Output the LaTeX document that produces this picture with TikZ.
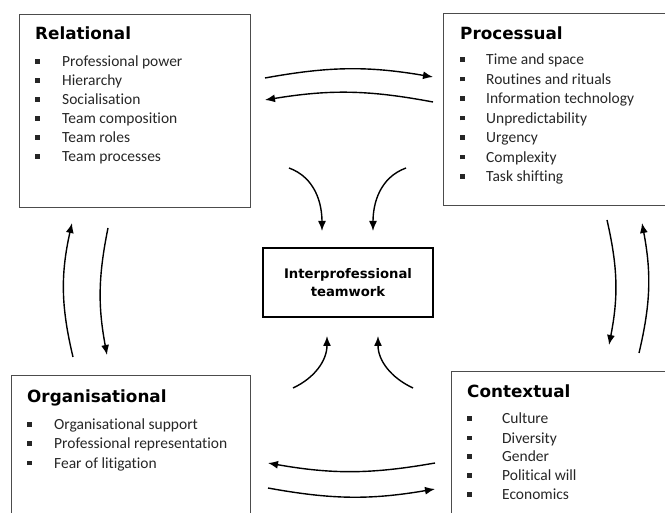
\documentclass[tikz,border=0pt]{standalone}
\usepackage{fontspec}
\setmainfont{Carlito}[Ligatures=NoCommon]
\newfontfamily\headfont{DejaVu Sans}
\usetikzlibrary{arrows.meta}
\newcommand{\bul}{\rule[3pt]{4.5pt}{4.5pt}}

\begin{document}
\begin{tikzpicture}[x=1pt, y=1pt,
  box/.style={draw=black!70, line width=1.3pt, anchor=north west, inner sep=0pt},
  head/.style={anchor=base west, inner sep=0pt, font=\headfont\bfseries\fontsize{16.8}{20}\selectfont},
  item/.style={anchor=base west, inner sep=0pt, text=black!85, font=\fontsize{15.5}{19}\selectfont},
  core/.style={draw, line width=2pt, minimum width=170pt, minimum height=69pt, align=center, font=\headfont\bfseries\fontsize{13.2}{18}\selectfont},
  link/.style={-{Latex[length=10pt,width=8pt]}, line width=1.4pt}]

  \useasboundingbox (0,0) rectangle (665,-513);

  % the four boxes and the centre
  \node[box, minimum width=231pt, minimum height=193pt] (rel) at (19,-14) {};
  \node[box, minimum width=230pt, minimum height=192pt] (proc) at (443,-13) {};
  \node[box, minimum width=239pt, minimum height=150pt] (org) at (11,-375) {};
  \node[box, minimum width=230pt, minimum height=150pt] (ctx) at (451,-371) {};
  \node[core] (team) at (348,-282.5) {Interprofessional\\teamwork};

  % headings
  \node[head] (relT) at ([shift={(16,-26)}]rel.north west) {Relational};
  \node[head] (procT) at ([shift={(17,-27)}]proc.north west) {Processual};
  \node[head] (orgT) at ([shift={(16,-28)}]org.north west) {Organisational};
  \node[head] (ctxT) at ([shift={(16,-27)}]ctx.north west) {Contextual};

  % lists
  \foreach \t [count=\i] in {Professional power, Hierarchy, Socialisation, Team composition, Team roles, Team processes}
    \node[item] (rel-\i) at ([shift={(16,{-53-19*(\i-1)})}]rel.north west) {\makebox[27pt][l]{\bul}\t};
  \foreach \t [count=\i] in {Time and space, Routines and rituals, Information technology, Unpredictability, Urgency, Complexity, Task shifting}
    \node[item] (proc-\i) at ([shift={(17,{-52-19.5*(\i-1)})}]proc.north west) {\makebox[26pt][l]{\bul}\t};
  \foreach \t [count=\i] in {Organisational support, Professional representation, Fear of litigation}
    \node[item] (org-\i) at ([shift={(16,{-55-19*(\i-1)})}]org.north west) {\makebox[27pt][l]{\bul}\t};
  \foreach \t [count=\i] in {Culture, Diversity, Gender, Political will, Economics}
    \node[item] (ctx-\i) at ([shift={(16,{-53-19*(\i-1)})}]ctx.north west) {\makebox[35pt][l]{\bul}\t};

  % arrow ends
  \coordinate (a1) at (265,-78);  \coordinate (a2) at (433,-77);
  \coordinate (a3) at (433,-102); \coordinate (a4) at (265,-100);
  \coordinate (b1) at (607,-220); \coordinate (b2) at (609,-345);
  \coordinate (b3) at (639,-353); \coordinate (b4) at (642,-223);
  \coordinate (c1) at (73,-357);  \coordinate (c2) at (72,-223);
  \coordinate (c3) at (108,-228); \coordinate (c4) at (107,-355);
  \coordinate (d1) at (435,-463); \coordinate (d2) at (268,-463);
  \coordinate (d3) at (268,-488); \coordinate (d4) at (435,-489);
  \coordinate (e1) at (289,-168); \coordinate (e2) at ([shift={(-26,16)}]team.north);
  \coordinate (e3) at (406,-168); \coordinate (e4) at ([shift={(25,16)}]team.north);
  \coordinate (e5) at (293,-388); \coordinate (e6) at ([shift={(-21,-18)}]team.south);
  \coordinate (e7) at (413,-388); \coordinate (e8) at ([shift={(30,-18)}]team.south);

  \draw[link] (a1) to[bend left=10] (a2);   %% rel->proc
  \draw[link] (a3) to[bend right=10] (a4);  %% proc->rel
  \draw[link] (b1) to[bend left=12] (b2);   %% proc->ctx
  \draw[link] (b3) to[bend right=12] (b4);  %% ctx->proc
  \draw[link] (c1) to[bend left=13] (c2);   %% org->rel
  \draw[link] (c3) to[bend right=11] (c4);  %% rel->org
  \draw[link] (d1) to[bend left=10] (d2);   %% ctx->org
  \draw[link] (d3) to[bend right=10] (d4);  %% org->ctx

  \draw[link] (e1) to[out=-20, in=90] (e2);
  \draw[link] (e3) to[out=-160, in=90] (e4);
  \draw[link] (e5) to[out=25, in=-90] (e6);
  \draw[link] (e7) to[out=155, in=-90] (e8);
\end{tikzpicture}
\end{document}
